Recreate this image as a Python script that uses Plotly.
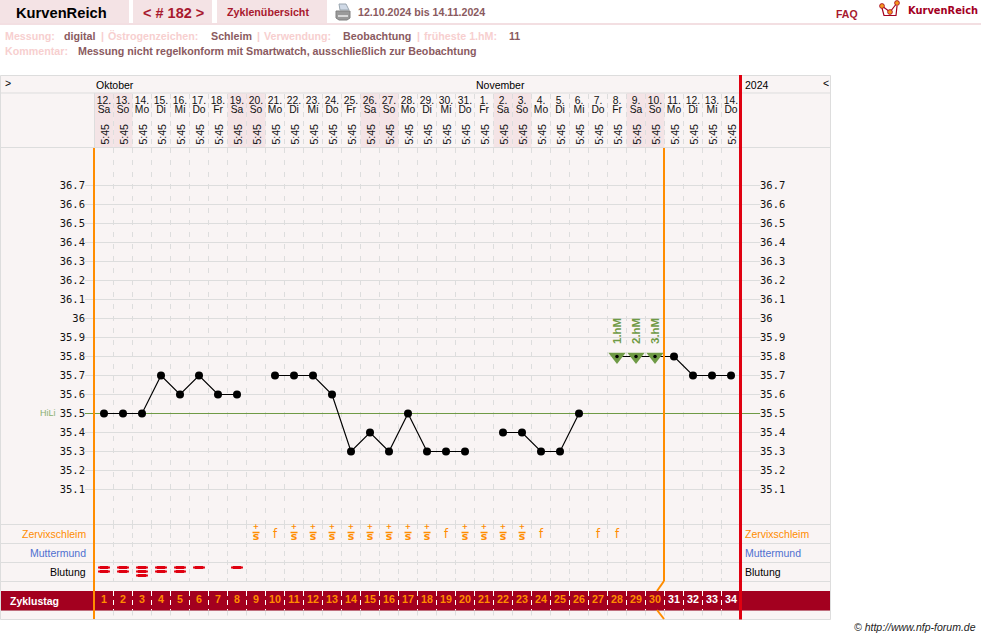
import plotly.graph_objects as go

W, H = 981, 639

# ---------- data ----------
dates = ["12.","13.","14.","15.","16.","17.","18.","19.","20.","21.","22.","23.","24.","25.","26.","27.","28.","29.","30.","31.",
         "1.","2.","3.","4.","5.","6.","7.","8.","9.","10.","11.","12.","13.","14."]
weekdays = ["Sa","So","Mo","Di","Mi","Do","Fr","Sa","So","Mo","Di","Mi","Do","Fr","Sa","So","Mo","Di","Mi","Do",
            "Fr","Sa","So","Mo","Di","Mi","Do","Fr","Sa","So","Mo","Di","Mi","Do"]
times = ["5:45"] * 34
cycle_days = list(range(1, 35))
temperatures = [35.5,35.5,35.5,35.7,35.6,35.7,35.6,35.6,None,35.7,35.7,35.7,35.6,35.3,35.4,35.3,35.5,35.3,35.3,35.3,
                None,35.4,35.4,35.3,35.3,35.5,None,35.8,35.8,35.8,35.8,35.7,35.7,35.7]
mucus = ["","","","","","","","","S+","f","S+","S+","S+","S+","S+","S+","S+","S+","f","S+",
         "S+","S+","S+","f","","","f","f","","","","","",""]
bleeding = [2,2,3,2,2,1,0,1]
high_days = [28, 29, 30]
high_labels = ["1.hM", "2.hM", "3.hM"]
high_temp = 35.8
cover_line = 35.5
temp_ticks = [35.1,35.2,35.3,35.4,35.5,35.6,35.7,35.8,35.9,36.0,36.1,36.2,36.3,36.4,36.5,36.6,36.7]
temp_tick_text = ["35.1","35.2","35.3","35.4","35.5","35.6","35.7","35.8","35.9","36","36.1","36.2","36.3","36.4","36.5","36.6","36.7"]
info_row = [("Messung:", 5, "l"), ("digital", 64, "v"), ("|", 101, "l"), ("Östrogenzeichen:", 108, "l"), ("Schleim", 211, "v"),
            ("|", 257, "l"), ("Verwendung:", 264, "l"), ("Beobachtung", 343, "v"), ("|", 417, "l"),
            ("früheste 1.hM:", 424, "l"), ("11", 509, "v")]

# ---------- styles ----------
SANS = "Liberation Sans"
FRAME = "#f9f4f4"; GRID = "#dddddd"; PINK = "#f4e3e5"; WEEKEND = "#f4e4e6"
DARK = "#a3001f"; RED = "#e00010"; ORANGE = "#ff8c00"; GREEN = "#6f9a45"
LABEL = "#f7cfcf"; VALUE = "#8a5a60"; BRAND = "#a8192e"

def fx(px): return px / W
def fy(py): return 1 - py / H
def dx(px): return (px - 104) / 19 + 1
def ty(py): return 35.5 + (413.5 - py) / 190

shapes, notes = [], []

def rect(x0, y0, x1, y1, fill, line=None, layer="below"):
    shapes.append(dict(type="rect", xref="paper", yref="paper", x0=fx(x0), x1=fx(x1), y0=fy(y0), y1=fy(y1),
                       fillcolor=fill, line=dict(width=1 if line else 0, color=line or fill), layer=layer))

def seg(x0, y0, x1, y1, color, width=1, layer="below", dash=None):
    shapes.append(dict(type="line", xref="paper", yref="paper", x0=fx(x0), x1=fx(x1), y0=fy(y0), y1=fy(y1),
                       line=dict(color=color, width=width, dash=dash or "solid"), layer=layer))

def poly(pts, fill=None, line=None, width=1, layer="above"):
    d = "M " + " L ".join(f"{fx(a)} {fy(b)}" for a, b in pts) + (" Z" if fill else "")
    shapes.append(dict(type="path", xref="paper", yref="paper", path=d, fillcolor=fill or "rgba(0,0,0,0)",
                       line=dict(color=line or "rgba(0,0,0,0)", width=width if line else 0), layer=layer))

def label(x, y, text, size=11, color="#000", anchor="left", bold=False, family=SANS, angle=0, xref="paper", italic=False):
    t = f"<b>{text}</b>" if bold else text
    if italic: t = f"<i>{t}</i>"
    notes.append(dict(x=fx(x) if xref == "paper" else x, xref=xref, y=fy(y), yref="paper", text=t, showarrow=False,
                      xanchor=anchor, yanchor="middle", textangle=angle, borderpad=0, borderwidth=0,
                      font=dict(family=family, size=size, color=color)))

# ---------- page header ----------
rect(0, 0, 129, 23, PINK); rect(133, 0, 212, 23, PINK); rect(217, 0, 327, 23, PINK)
rect(0, 23, W, 25, "#f3dfe2")
label(61, 13, "KurvenReich", 14.7, "#000", "center", True)
label(173.5, 13, "&lt; # 182 &gt;", 14.5, BRAND, "center", True)
label(268, 12.5, "Zyklenübersicht", 10.7, BRAND, "center", True)
label(358, 12.5, "12.10.2024 bis 14.11.2024", 10.65, VALUE, "left", True)
label(847, 14.5, "FAQ", 10.5, BRAND, "center", True)
label(908, 10.5, "KurvenReich", 9.9, DARK, "left", True, "DejaVu Sans")
for text, x, kind in info_row:
    label(x, 36, text, 10.7, LABEL if kind == "l" else VALUE, "left", True)
label(5, 51, "Kommentar:", 10.7, LABEL, "left", True)
label(78, 51, "Messung nicht regelkonform mit Smartwatch, ausschließlich zur Beobachtung", 10.7, VALUE, "left", True)
label(976, 627, "© http://www.nfp-forum.de", 10.5, "#222", "right", italic=True)

# printer icon
poly([(339, 4), (346, 4), (349, 10), (340, 10)], "#cfd9e6", "#9aa6b0")
poly([(336, 11), (350, 11), (350, 18), (347, 20), (339, 20), (336, 18)], "#9a9a9a", "#808080")
rect(338, 15, 348, 17, "#d8d8d8", layer="above")
# logo
poly([(882, 8), (884, 15.5), (896, 15.5), (897, 6)], None, DARK, 1.2)
poly([(882, 6), (890, 12), (897, 3)], None, DARK, 1.2)
for a, b in [(882, 6), (890, 12), (897, 3)]:
    shapes.append(dict(type="circle", xref="paper", yref="paper", x0=fx(a-2.4), x1=fx(a+2.4), y0=fy(b+2.4), y1=fy(b-2.4),
                       fillcolor="#f59a20", line=dict(color=DARK, width=0.8), layer="above"))

# ---------- frame ----------
rect(0.5, 75.5, 830.5, 619.5, FRAME, GRID)
for d, wd in zip(cycle_days, weekdays):
    if wd in ("Sa", "So"):
        rect(94.5 + 19 * (d - 1), 93, 94.5 + 19 * d, 147.5, WEEKEND)
for y in (93, 147.5, 524.5, 543.5, 562.5, 581.5, 610.5):
    seg(0.5, y, 830.5, y, GRID)
seg(94.5, 93, 94.5, 148, GRID)
rect(1, 591, 830, 610.5, DARK)

# dashed day boundaries
for d in cycle_days[:-1]:
    b = d + 0.5
    for y0, y1, col in ((94, 147, GRID), (524, 581, GRID), (591, 610, "#ffffff"), (610.5, 619, GRID)):
        shapes.append(dict(type="line", xref="x", yref="y", x0=b, x1=b, y0=y0, y1=y1,
                           line=dict(color=col, width=1, dash="5px,4px"), layer="below"))

# cycle boundary lines
seg(94, 148, 94, 619, ORANGE, 2, "above")
seg(664, 148, 664, 581, ORANGE, 2, "above")
seg(664, 581, 657, 591, ORANGE, 2, "above")
seg(657, 610, 664, 619, ORANGE, 2, "above")
seg(740.5, 75, 740.5, 619.5, RED, 3, "above")

# frame texts
label(96, 85, "Oktober", 10.5)
label(476, 85, "November", 10.5)
label(745, 85, "2024", 10.5)
label(5, 83, "&gt;", 10.5)
label(823, 83, "&lt;", 10.5)
for name, col, y in (("Zervixschleim", ORANGE, 534), ("Muttermund", "#5070d0", 553), ("Blutung", "#000", 572)):
    label(86, y, name, 10.5, col, "right")
    label(745, y, name, 10.5, col, "left")
label(10, 600.5, "Zyklustag", 10.5, "#ffffff", "left", True)
label(40, 412.5, "HiLi", 9, "#8ab070", "left")
for d in cycle_days:
    label(d, 134.5, times[d - 1], 10.5, "#111", "center", angle=-90, xref="x")
for d, t in zip(high_days, high_labels):
    label(d, 331, t, 11.5, GREEN, "center", True, angle=-90, xref="x2")

# ---------- traces ----------
fig = go.Figure()
x_range = [dx(85), dx(760)]

# lower rows and header live on a subplot whose y axis follows the page rows
fig.add_trace(go.Scatter(x=cycle_days, y=[101] * 34, text=dates, mode="text", xaxis="x", yaxis="y",
                         textfont=dict(family=SANS, size=10.3, color="#111")))
fig.add_trace(go.Scatter(x=cycle_days, y=[110.5] * 34, text=weekdays, mode="text", xaxis="x", yaxis="y",
                         textfont=dict(family=SANS, size=10.3, color="#111")))

plus_days = [d for d, m in zip(cycle_days, mucus) if m == "S+"]
f_days = [d for d, m in zip(cycle_days, mucus) if m == "f"]
fig.add_trace(go.Scatter(x=plus_days, y=[527] * len(plus_days), text=["+"] * len(plus_days), mode="text", xaxis="x", yaxis="y",
                         textfont=dict(family="DejaVu Sans", size=7.5, color=ORANGE, weight="bold")))
fig.add_trace(go.Scatter(x=plus_days, y=[532.5] * len(plus_days), mode="markers", xaxis="x", yaxis="y",
                         marker=dict(symbol="line-ew", size=5, opacity=1, line=dict(color=ORANGE, width=1.4))))
fig.add_trace(go.Scatter(x=plus_days, y=[537.5] * len(plus_days), text=["s"] * len(plus_days), mode="text", xaxis="x", yaxis="y",
                         textfont=dict(family="DejaVu Sans", size=11, color=ORANGE, weight="bold")))
fig.add_trace(go.Scatter(x=f_days, y=[535] * len(f_days), text=["f"] * len(f_days), mode="text", xaxis="x", yaxis="y",
                         textfont=dict(family="DejaVu Sans", size=11.5, color=ORANGE)))

bleed_x = [d for d, n in zip(cycle_days, bleeding) for _ in range(n)]
bleed_y = [567.5 + 4 * i for n in bleeding for i in range(n)]
fig.add_trace(go.Scatter(x=bleed_x, y=bleed_y, mode="markers", xaxis="x", yaxis="y",
                         marker=dict(symbol="line-ew", size=8.5, opacity=1, line=dict(color=RED, width=2.2))))
fig.add_trace(go.Scatter(x=bleed_x, y=bleed_y, mode="markers", xaxis="x", yaxis="y",
                         marker=dict(symbol="line-ew", size=6, opacity=1, line=dict(color=RED, width=3.2))))
fig.add_trace(go.Scatter(x=cycle_days, y=[600.5] * 34, text=[str(c) for c in cycle_days], mode="text", xaxis="x", yaxis="y",
                         textfont=dict(family=SANS, size=10.7, color=[ORANGE if c <= 30 else "#ffffff" for c in cycle_days],
                                       weight="bold")))

# cover line on the left temperature axis
fig.add_trace(go.Scatter(x=x_range, y=[cover_line, cover_line], mode="lines", xaxis="x2", yaxis="y2",
                         line=dict(color=GREEN, width=1)))
# temperature curve on the right temperature axis
fig.add_trace(go.Scatter(x=cycle_days, y=temperatures, mode="lines", connectgaps=False, xaxis="x2", yaxis="y3",
                         line=dict(color="#000", width=1.2)))
fig.add_trace(go.Scatter(x=high_days, y=[high_temp] * 3, mode="markers", xaxis="x2", yaxis="y3",
                         marker=dict(symbol="triangle-down", size=15, opacity=1, color=GREEN, line=dict(width=0))))
small = [3.5 if d in high_days else 8 for d in cycle_days]
fig.add_trace(go.Scatter(x=cycle_days, y=temperatures, mode="markers", xaxis="x2", yaxis="y3",
                         marker=dict(symbol="circle", size=small, opacity=1, color="#000", line=dict(width=0))))

hidden = dict(visible=False)
x_domain = [fx(85), fx(760)]
temp_domain = [fy(523.5), fy(148)]
temp_range = [ty(523.5), ty(148)]
tick_font = dict(family="DejaVu Sans Mono", size=10.5, color="#111")

fig.update_layout(
    width=W, height=H, autosize=False, margin=dict(l=0, r=0, t=0, b=0, pad=0),
    paper_bgcolor="#ffffff", plot_bgcolor="rgba(0,0,0,0)", showlegend=False, hovermode=False,
    shapes=shapes, annotations=notes,
    xaxis=dict(domain=x_domain, range=x_range, anchor="y", **hidden),
    yaxis=dict(domain=[fy(619.5), fy(75)], range=[619.5, 75], anchor="x", **hidden),
    xaxis2=dict(domain=x_domain, range=x_range, anchor="y2", showticklabels=False, ticks="", showline=False, zeroline=False,
                tickmode="array", tickvals=[d + 0.5 for d in cycle_days[:-1]], showgrid=True, gridcolor=GRID, griddash="5px,7px"),
    yaxis2=dict(domain=temp_domain, range=temp_range, anchor="x2", side="left", tickmode="array", tickvals=temp_ticks,
                ticktext=temp_tick_text, showgrid=True, gridcolor=GRID, zeroline=False, showline=False, ticks="",
                tickfont=tick_font, ticklabelstandoff=-1),
    yaxis3=dict(domain=temp_domain, range=temp_range, anchor="x2", side="right", overlaying="y2", tickmode="array",
                tickvals=temp_ticks, ticktext=temp_tick_text, showgrid=False, zeroline=False, showline=False, ticks="",
                tickfont=tick_font, ticklabelstandoff=-1),
)

fig.write_html("out.html", config=dict(displayModeBar=False, staticPlot=True),
               post_script="document.body.style.margin='0';document.body.style.overflow='hidden';")
